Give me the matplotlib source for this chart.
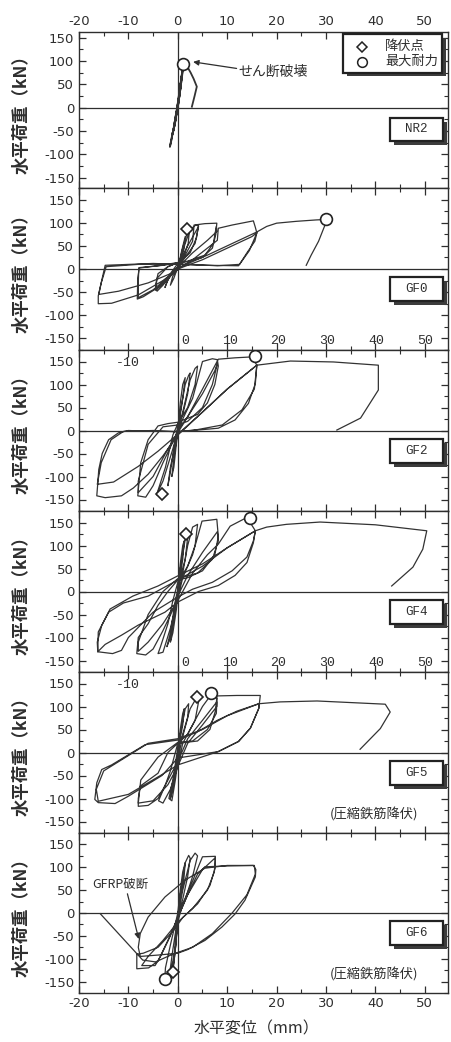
import matplotlib
matplotlib.use("Agg")
import matplotlib.pyplot as plt
from matplotlib.patches import Rectangle
from matplotlib.ticker import MultipleLocator

plt.rcParams["font.family"] = ["Noto Sans CJK JP", "DejaVu Sans"]
plt.rcParams["axes.unicode_minus"] = False

INK = "#2e2e2e"

specimens = ["NR2", "GF0", "GF2", "GF4", "GF5", "GF6"]

# hysteresis paths, (displacement mm, load kN)
nr2_path = [
    (0, 0), (0.4, 35), (0.7, 60), (0.4, 30), (0, 5), (-0.5, -30), (-0.9, -50), (-0.6, -30),
    (-0.2, -8), (0.5, 45), (0.9, 75), (0.6, 45), (0.1, 8), (-0.8, -45), (-1.2, -60), (-0.8, -45),
    (-0.5, -22), (0.2, 20), (0.8, 70), (1.15, 94), (0.9, 70), (0.2, 15), (-0.6, -35), (-1.2, -62),
    (-1.6, -84), (-1.3, -70), (-0.9, -47), (-0.2, -5), (0.6, 55), (1.15, 94), (1.8, 90), (2.6, 75),
    (3.2, 62), (3.85, 45), (3.4, 25), (2.85, 2),
]
gf0_path = [
    (0, 0), (0.8, 40), (1.5, 70), (1.2, 40), (0.2, 10), (-0.8, -20), (-1.5, -35), (-1, -15), (0, 0),
    (1, 45), (2, 82), (2.4, 88), (2.1, 55), (1, 22), (0, 12), (-1.5, -10), (-2.6, -40), (-2.2, -28),
    (-1, -5), (0, 5),
    (1.5, 55), (2.5, 85), (3.5, 94), (4.2, 95), (3.8, 68), (2.5, 35), (0.5, 16), (-2, 5), (-4, -10),
    (-4.5, -35), (-4.2, -48), (-3, -35), (-1, -8), (0, 5),
    (2, 50), (4, 88), (4.2, 92), (3.5, 55), (1, 18), (-2, 5), (-4.2, -20), (-4.5, -46), (-2, -22), (0, 2),
    (1, 20), (3, 60), (3.3, 95), (5.5, 98), (7.9, 99), (7.7, 75), (7, 45), (5, 25), (2, 16), (0, 13),
    (-3, 8), (-7.8, 3), (-8.1, -20), (-8.2, -65), (-7, -60), (-4, -40), (-1, -8), (0, 3),
    (3, 35), (6, 62), (7.9, 81), (7.8, 92), (7.2, 55), (5.5, 30), (2, 17), (0, 14), (-4, 7), (-7.9, 2),
    (-8, -30), (-8, -62), (-5, -45), (-2, -18), (0, 0),
    (3, 20), (8, 62), (8.2, 88), (11, 95), (15.3, 104), (15.7, 90), (16, 78), (14.5, 40), (12.3, 7),
    (6, 8), (0, 10), (-5, 12), (-14.7, 8), (-15.3, -20), (-16.1, -58), (-16.1, -75), (-13.4, -74),
    (-8, -56), (-3, -25), (0, 0),
    (5, 20), (10, 45), (15, 70), (16, 78), (15.6, 60), (14, 35), (12.5, 10), (8, 7), (0, 11), (-8, 10),
    (-14.5, 5), (-15.5, -30), (-16, -55), (-12, -48), (-6, -30), (-1, -8), (0, 2),
    (6, 30), (12, 60), (16, 80), (18, 92), (20, 99), (24, 103), (28, 106), (30, 107), (29.8, 95),
    (28.5, 60), (27, 30), (26, 8),
]
gf2_path = [
    (0, 0), (0.5, 60), (1, 100), (1.5, 115), (1, 70), (0.3, 20), (-0.3, -30), (-0.8, -80), (-1.2, -100),
    (-0.8, -60), (0, 0),
    (0.5, 40), (1.5, 100), (2.2, 120), (2.5, 125), (2, 80), (1, 35), (0, 10), (-0.5, -20), (-1.5, -90),
    (-2, -120), (-1.5, -80), (-0.5, -30), (0, 0),
    (1, 40), (2.5, 110), (3.5, 135), (4, 140), (3.5, 100), (2, 50), (0, 15), (-1, -10), (-2.5, -80),
    (-4, -130), (-4.3, -140), (-3, -110), (-1, -40), (0, 0),
    (1, 25), (3, 70), (4.5, 130), (5, 150), (7, 156), (8, 154), (8.2, 140), (7.5, 100), (6, 60), (4, 35),
    (0, 18), (-2, 15), (-4, 10), (-6, -20), (-7.5, -70), (-8.1, -142), (-6.5, -145), (-5, -120),
    (-3, -70), (-1, -25), (0, 0),
    (2, 30), (5, 80), (7.5, 130), (8, 145), (7, 100), (5, 50), (2, 20), (0, 12), (-3, 8), (-6, -30),
    (-8, -110), (-8, -135), (-5, -100), (-2, -40), (0, -5),
    (2, 30), (5, 90), (8.2, 155), (11.6, 158), (15, 160), (16, 142), (15.7, 102), (14.3, 59),
    (11.6, 23), (8.2, 5), (3, 0), (0, -2),
    (-5, -2), (-10, 0), (-12, -5), (-14, -20), (-15.3, -50), (-16, -85), (-16.2, -115), (-16.4, -142),
    (-14.7, -146), (-11.4, -142), (-9, -125), (-6, -95), (-3, -55), (0, -10),
    (4, 30), (10, 90), (16, 142), (15.5, 90), (13, 45), (9, 12), (4, 2), (0, -3),
    (-5, 0), (-11, -2), (-13.5, -20), (-15.5, -70), (-16.3, -117), (-13, -112), (-8, -78), (-4, -45),
    (0, -8),
    (5, 40), (10, 90), (16, 142), (22.8, 151), (31.5, 149), (40.6, 142), (40.6, 88), (37, 27),
    (32.2, 1),
]
gf4_path = [
    (0, 0), (0.5, 60), (1, 100), (1.3, 110), (1, 70), (0.3, 20), (-0.3, -40), (-1, -90), (-1.5, -110),
    (-1, -70), (0, -10),
    (0.5, 50), (1.7, 126), (2, 118), (1.5, 70), (0.5, 30), (-0.5, -20), (-1.5, -90), (-2.2, -120),
    (-1.5, -100), (-0.5, -40), (0, -10),
    (1, 40), (2, 100), (3, 140), (4, 146), (3.5, 100), (2, 55), (0, 20), (-1, -20), (-2, -70),
    (-3.5, -120), (-4, -135), (-3, -132), (-1.5, -80), (0, -15),
    (1, 30), (3, 80), (4.9, 153), (7.9, 157), (8.2, 120), (7.5, 80), (5, 45), (2, 30), (0, 25), (-2, 0),
    (-4, -30), (-6, -70), (-8, -100), (-8.3, -135), (-6.5, -138), (-5, -125), (-3, -85), (-1, -40),
    (0, -10),
    (2, 35), (5, 85), (8, 130), (8.2, 110), (7, 70), (4, 40), (0, 28), (-3, 0), (-6, -50), (-8, -110),
    (-8, -130), (-6, -110), (-3, -70), (0, -20),
    (3, 40), (6, 80), (8.2, 103), (10.6, 142), (14, 161), (15.7, 132), (15.3, 106), (14, 63),
    (11.6, 35), (8.2, 13), (4.2, 0), (0, -23), (-2.6, -45), (-8, -73), (-11.4, -95), (-14.7, -115),
    (-16.2, -131), (-16.1, -88), (-13.7, -38), (-9.1, -10), (-4, 12), (0, 34), (5, 60), (10, 95),
    (15.7, 132), (15.3, 110), (14, 75), (11, 45), (7, 20), (3, 5), (0, -12), (-5, -45), (-10, -100),
    (-11.4, -128), (-13.2, -135), (-16.2, -131), (-16.3, -110), (-15.4, -74), (-14, -45), (-11, -25),
    (-6, -10), (0, 25),
    (5, 55), (10, 95), (15.7, 132), (18, 140), (22, 146), (28.8, 151), (40, 145), (50.4, 132),
    (49.6, 92), (47.6, 53), (43.3, 12),
]
gf5_path = [
    (0, 0), (0.5, 50), (1, 85), (1.3, 95), (1, 60), (0.3, 20), (-0.3, -30), (-1, -80), (-1.5, -100),
    (-1, -70), (0, -15),
    (0.5, 40), (1.5, 95), (2.2, 106), (2, 75), (1, 35), (0, 10), (-1, -60), (-1.8, -100), (-1.2, -105),
    (-0.5, -60), (0, -20),
    (1, 40), (2.5, 95), (3.9, 121), (4.2, 110), (3.5, 70), (2, 40), (0, 20), (-1.5, -40), (-2.5, -70),
    (-3.9, -105), (-3, -110), (-1.5, -80), (0, -30),
    (1, 20), (3, 60), (5, 100), (6.7, 125), (7.9, 118), (7.6, 90), (6.5, 50), (4, 25), (0, 20), (-2, 0),
    (-4, -45), (-7.6, -73), (-8, -100), (-8, -117), (-6, -115), (-4, -100), (-2, -60), (0, -20),
    (2, 30), (5, 70), (7.9, 110), (7.8, 85), (6, 50), (3, 25), (0, 22), (-4, -10), (-7.5, -60),
    (-8, -110), (-5, -105), (-2, -70), (0, -30),
    (2, 20), (5, 60), (7.9, 100), (7.9, 123), (12, 124), (16.7, 124), (16.4, 96), (14.7, 53),
    (12.3, 24), (8.2, 2), (0, -12), (-3.2, -50), (-10, -95), (-12.7, -111), (-16.1, -109),
    (-16.8, -102), (-16.4, -66), (-15.4, -37), (-13.4, -27), (-6.6, 17), (0, 27), (4, 45), (8, 70),
    (12, 90), (16.4, 106), (16.4, 96), (14.7, 53), (12.3, 24), (8.2, 2), (0, -27), (-3.2, -48),
    (-10, -91), (-16.1, -106), (-16.5, -80), (-15, -40), (-12, -20), (-6, 20), (0, 30), (5, 50),
    (10, 80), (16.4, 106), (20.7, 110), (28.2, 112), (42, 105), (43, 88), (41, 52), (36.9, 7),
]
gf6_path = [
    (0, 0), (0.5, 50), (1, 90), (1.5, 110), (1.2, 70), (0.3, 20), (-0.3, -40), (-0.8, -100),
    (-1, -125), (-0.6, -90), (0, -20),
    (0.5, 40), (1.5, 110), (2.2, 126), (2.5, 120), (2, 80), (1, 30), (0, -10), (-1, -80), (-1.5, -120),
    (-1, -129), (-0.5, -80), (0, -10),
    (1, 50), (2.5, 115), (3.5, 131), (4, 125), (3, 80), (1.5, 30), (0, 0), (-1.5, -70), (-2.5, -120),
    (-2.6, -140), (-1.5, -130), (-0.5, -80), (0, -20),
    (1, 20), (3, 70), (4.5, 110), (5, 123), (7.6, 124), (7.6, 100), (6.5, 60), (4, 20), (1, -10),
    (-1, -40), (-4, -75), (-7, -88), (-8.3, -90), (-8.3, -122), (-5.9, -120), (-4, -105), (-2, -60),
    (0, -10),
    (2, 40), (5, 95), (7.6, 121), (7.4, 90), (6, 50), (3, 10), (0, -20), (-3, -60), (-6, -95),
    (-7.3, -115), (-4.6, -115), (-3.5, -95), (-1.5, -50), (0, -10),
    (2, 40), (4, 85), (5.5, 101), (10, 103), (15.3, 104), (15.8, 95), (15.7, 79), (13.6, 28),
    (11.6, -2), (8.9, -31), (5.5, -60), (2, -80), (0, -88), (-4, -92), (-7.6, -95), (-8, -75),
    (-7.6, -45), (-6, -9), (-2.6, 35), (1.5, 72), (5.5, 98), (10, 104), (15.5, 104), (15.7, 85),
    (14, 40), (11, 0), (7, -45), (3, -75), (-1, -90), (-4.5, -107), (-7.1, -103), (-15.7, -1.5),
]
paths = [nr2_path, gf0_path, gf2_path, gf4_path, gf5_path, gf6_path]

# yield point (diamond) and maximum strength (circle)
yield_x = [None, 1.8, -3.2, 1.7, 3.9, -1.0]
yield_y = [None, 87, -138, 126, 121, -129]
peak_x = [1.15, 30.0, 15.7, 14.7, 6.7, -2.6]
peak_y = [94, 107, 161, 160, 129, -145]

x_ticks = [-20, -10, 0, 10, 20, 30, 40, 50]
y_ticks = [-150, -100, -50, 0, 50, 100, 150]
inner_x_labels = ["0", "10", "20", "30", "40", "50"]
inner_x_pos = [1.5, 10.5, 20.3, 30.2, 40.1, 50.0]

W_PX, H_PX = 451, 1042
tops = [32, 188, 350, 511, 672, 833]
bottoms = [188, 350, 511, 672, 833, 993]
ylims = [(-172, 162), (-175, 175), (-175, 175), (-175, 175), (-175, 175), (-175, 175)]
left_px, right_px = 79, 448


def shadow_box(ax, x0, y0, w, h, z=6):
    ax.add_patch(Rectangle((x0 + 0.011, y0 - 0.025), w, h, transform=ax.transAxes,
                           facecolor="#3c3c3c", edgecolor="none", zorder=z, clip_on=False))
    ax.add_patch(Rectangle((x0, y0), w, h, transform=ax.transAxes, facecolor="white",
                           edgecolor="#222222", lw=1.6, zorder=z + 1, clip_on=False))


fig = plt.figure(figsize=(W_PX / 100, H_PX / 100), dpi=100)

for i, name in enumerate(specimens):
    ax = fig.add_axes([left_px / W_PX, 1 - bottoms[i] / H_PX,
                       (right_px - left_px) / W_PX, (bottoms[i] - tops[i]) / H_PX])
    ax.set_ylim(*ylims[i])
    for sp in ax.spines.values():
        sp.set_color(INK)
        sp.set_linewidth(1.0)
    ax.set_xticks(x_ticks)
    ax.xaxis.set_minor_locator(MultipleLocator(5))
    ax.set_yticks(y_ticks)
    ax.yaxis.set_minor_locator(MultipleLocator(25))
    ax.set_xlim(-20, 54.7)
    ax.tick_params(which="both", direction="in", top=True, right=True, color=INK,
                   labelsize=9.5, labelcolor=INK, labelfontfamily="DejaVu Sans")
    ax.tick_params(which="major", length=5, width=0.9)
    ax.tick_params(which="minor", length=3, width=0.8)
    ax.tick_params(axis="x", labelbottom=(i == 5), labeltop=(i == 0), pad=3)

    ax.axhline(0, color=INK, lw=0.9, zorder=1)
    ax.axvline(0, color=INK, lw=0.9, zorder=1)

    xs = [p[0] for p in paths[i]]
    ys = [p[1] for p in paths[i]]
    ax.plot(xs, ys, color="#333333", lw=0.9 if i else 1.3, zorder=2)

    if yield_x[i] is not None:
        ax.plot(yield_x[i], yield_y[i], marker="D", ms=6.5, mfc="white", mec="#222222",
                mew=1.2, zorder=4)
    ax.plot(peak_x[i], peak_y[i], marker="o", ms=8.5, mfc="white", mec="#222222", mew=1.2,
            zorder=4)

    shadow_box(ax, 0.843, 0.30, 0.143, 0.15)
    ax.text(0.9145, 0.375, name, transform=ax.transAxes, ha="center", va="center",
            fontsize=9, family="Liberation Mono", color=INK, zorder=9)

    if i in (1, 3):
        for lx, lab in zip(inner_x_pos, inner_x_labels):
            ax.text(lx, -156, lab, ha="center", va="center", fontsize=9.5,
                    family="Liberation Mono", color=INK)
    if i in (2, 4):
        ax.text(-10.2, 147, "-10", ha="center", va="center", fontsize=9.5,
                family="Liberation Mono", color=INK)
    if i in (4, 5):
        ax.text(39.7, -134, "(圧縮鉄筋降伏)", ha="center", va="center", fontsize=9.5,
                color=INK)

    yc = 1 - (tops[i] + bottoms[i]) / 2 / H_PX
    fig.text(22 / W_PX, yc, "水平荷重（kN）", rotation=90, ha="center", va="center",
             fontsize=12.5, fontweight="bold", color=INK)

    if i == 0:
        ax.annotate("", xy=(3.1, 98), xytext=(11.9, 84),
                    arrowprops=dict(arrowstyle="-|>", color=INK, lw=0.9,
                                    shrinkA=0, shrinkB=0, mutation_scale=8))
        ax.text(12.3, 76, "せん断破壊", ha="left", va="center", fontsize=10, color=INK)
        shadow_box(ax, 0.715, 0.74, 0.268, 0.245)
        ax.plot([0.767], [0.905], transform=ax.transAxes, marker="D", ms=5.5, mfc="white",
                mec="#222222", mew=1.1, clip_on=False, zorder=9)
        ax.plot([0.767], [0.81], transform=ax.transAxes, marker="o", ms=7, mfc="white",
                mec="#222222", mew=1.1, clip_on=False, zorder=9)
        ax.text(0.83, 0.905, "降伏点", transform=ax.transAxes, ha="left", va="center",
                fontsize=9.5, color=INK, zorder=9)
        ax.text(0.83, 0.81, "最大耐力", transform=ax.transAxes, ha="left", va="center",
                fontsize=9.5, color=INK, zorder=9)
    if i == 5:
        ax.text(-17.4, 62, "GFRP破断", ha="left", va="center", fontsize=9, color=INK)
        ax.annotate("", xy=(-7.9, -57), xytext=(-10.2, 42),
                    arrowprops=dict(arrowstyle="-|>", color=INK, lw=0.9,
                                    shrinkA=0, shrinkB=0, mutation_scale=8))

fig.text(256 / W_PX, 1 - 1029 / H_PX, "水平変位（mm）", ha="center", va="center",
         fontsize=11.5, color=INK)

fig.savefig("out.png", dpi=100, facecolor="white")
